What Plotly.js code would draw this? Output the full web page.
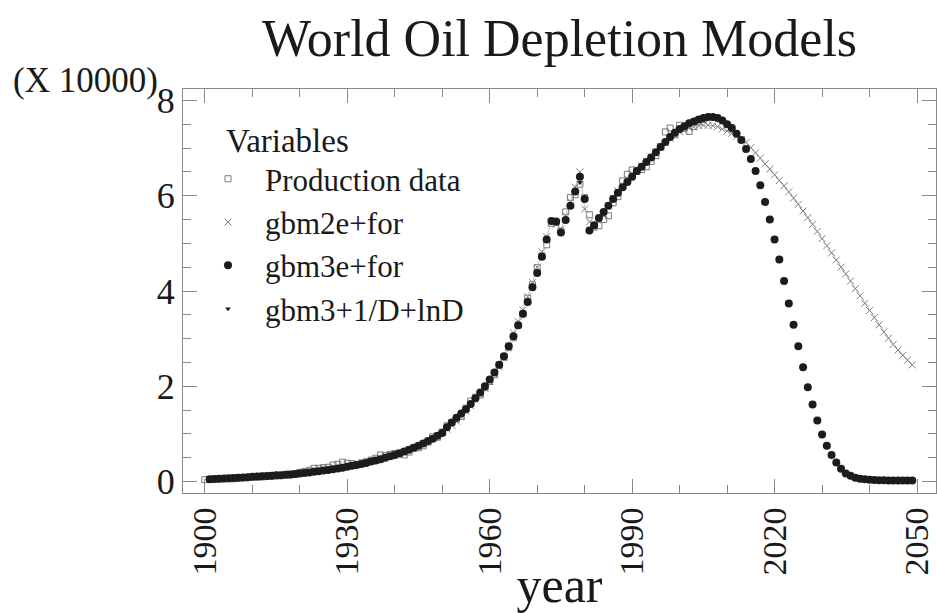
<!DOCTYPE html>
<html><head><meta charset="utf-8">
<script src="https://cdn.plot.ly/plotly-3.0.1.min.js"></script>
<style>html,body{margin:0;padding:0;background:#fff}#chart{width:937px;height:613px}</style>
</head><body><div id="chart"></div>
<script>
// ---- data (units: x 10000) ----
const productionStartYear = 1900;
const productionData = [
  0.040,0.045,0.050,0.054,0.060,0.059,0.058,0.072,0.078,0.082,
  0.090,0.094,0.097,0.105,0.110,0.118,0.125,0.138,0.139,0.152,
  0.189,0.210,0.237,0.278,0.279,0.293,0.301,0.347,0.363,0.407,
  0.386,0.375,0.358,0.393,0.416,0.450,0.490,0.558,0.545,0.572,
  0.589,0.604,0.560,0.620,0.700,0.710,0.750,0.830,0.940,0.930,
  1.04,1.17,1.24,1.31,1.37,1.54,1.69,1.77,1.82,1.97,
  2.10,2.24,2.44,2.61,2.81,3.02,3.28,3.52,3.85,4.13,
  4.49,4.74,4.97,5.42,5.44,5.26,5.66,5.96,6.02,6.24,
  5.96,5.60,5.34,5.37,5.50,5.58,5.85,5.98,6.31,6.45,
  6.54,6.51,6.55,6.61,6.72,6.84,7.03,7.34,7.42,7.28,
  7.48,7.42,7.35,7.45,7.55,7.60
];

const modelStartYear = 1901;
const gbm2eFor = [
  0.050,0.055,0.060,0.066,0.072,0.078,0.084,0.090,0.096,
  0.103,0.110,0.117,0.124,0.132,0.140,0.148,0.157,0.166,0.176,
  0.186,0.197,0.208,0.220,0.232,0.245,0.259,0.273,0.288,0.304,
  0.320,0.338,0.357,0.377,0.398,0.420,0.444,0.470,0.497,0.526,
  0.557,0.590,0.625,0.663,0.704,0.748,0.795,0.846,0.900,0.960,
  1.03,1.10,1.18,1.27,1.37,1.48,1.59,1.71,1.83,1.96,
  2.10,2.25,2.41,2.60,2.85,3.12,3.36,3.60,3.88,4.18,
  4.50,4.82,5.14,5.45,5.40,5.30,5.58,5.88,6.18,6.50,
  5.72,5.45,5.40,5.50,5.62,5.78,5.95,6.10,6.22,6.35,
  6.45,6.55,6.63,6.72,6.82,6.92,7.02,7.12,7.20,7.28,
  7.34,7.38,7.42,7.45,7.47,7.48,7.48,7.47,7.45,7.40,
  7.36,7.31,7.25,7.18,7.12,7.01,6.90,6.79,6.67,6.56,
  6.44,6.32,6.21,6.08,5.95,5.82,5.68,5.54,5.40,5.25,
  5.10,4.95,4.80,4.65,4.50,4.36,4.21,4.05,3.90,3.74,
  3.59,3.44,3.29,3.14,3.01,2.88,2.76,2.65,2.55,2.45
];
const gbm3eFor = [
  0.050,0.055,0.060,0.065,0.070,0.075,0.080,0.085,0.090,
  0.100,0.105,0.110,0.115,0.120,0.130,0.135,0.145,0.150,0.160,
  0.170,0.180,0.190,0.205,0.215,0.230,0.245,0.260,0.275,0.290,
  0.310,0.330,0.350,0.370,0.390,0.420,0.440,0.470,0.500,0.530,
  0.560,0.590,0.630,0.670,0.710,0.750,0.800,0.850,0.900,0.960,
  1.02,1.14,1.24,1.34,1.43,1.52,1.63,1.75,1.87,2.00,
  2.14,2.29,2.45,2.63,2.84,3.05,3.28,3.52,3.77,4.08,
  4.38,4.72,5.08,5.47,5.46,5.23,5.49,5.79,6.09,6.40,
  5.93,5.27,5.38,5.53,5.66,5.79,5.93,6.06,6.18,6.29,
  6.40,6.52,6.61,6.71,6.80,6.91,7.02,7.13,7.23,7.32,
  7.40,7.46,7.52,7.56,7.60,7.63,7.65,7.65,7.63,7.58,
  7.50,7.42,7.30,7.17,6.98,6.77,6.52,6.22,5.87,5.50,
  5.08,4.66,4.21,3.74,3.29,2.84,2.40,1.98,1.62,1.28,
  0.99,0.75,0.56,0.40,0.27,0.17,0.12,0.08,0.06,0.05,
  0.04,0.035,0.03,0.03,0.025,0.025,0.02,0.02,0.02,0.02
];
const gbm3InvDLnD = [
  0.048,0.053,0.058,0.063,0.068,0.073,0.078,0.083,0.088,
  0.097,0.102,0.107,0.112,0.118,0.127,0.132,0.142,0.147,0.157,
  0.167,0.177,0.187,0.201,0.211,0.226,0.241,0.256,0.271,0.286,
  0.305,0.325,0.345,0.365,0.385,0.414,0.434,0.464,0.494,0.524,
  0.553,0.583,0.622,0.662,0.702,0.741,0.791,0.841,0.891,0.950,
  1.01,1.13,1.23,1.33,1.42,1.51,1.62,1.74,1.86,1.99,
  2.13,2.28,2.44,2.62,2.83,3.04,3.27,3.51,3.76,4.06,
  4.36,4.70,5.06,5.44,5.44,5.22,5.47,5.77,6.06,6.28,
  5.92,5.27,5.37,5.52,5.65,5.78,5.92,6.05,6.17,6.28,
  6.39,6.51,6.60,6.70,6.79,6.90,7.01,7.12,7.22,7.31,
  7.39,7.45,7.51,7.55,7.59,7.62,7.64,7.64,7.62,7.57,
  7.49,7.41,7.29,7.16,6.97,6.76,6.51,6.21,5.86,5.49,
  5.07,4.65,4.20,3.73,3.28,2.83,2.39,1.97,1.61,1.27,
  0.98,0.74,0.55,0.39,0.26,0.16,0.11,0.07,0.05,0.04,
  0.035,0.03,0.025,0.025,0.02,0.02,0.02,0.02,0.02,0.02
];

const seriesNames = ['Production data', 'gbm2e+for', 'gbm3e+for', 'gbm3+1/D+lnD'];
const xTickVals = [1900, 1930, 1960, 1990, 2020, 2050];
const xTickText = ['1900', '1930', '1960', '1990', '2020', '2050'];
const yTickVals = [0, 2, 4, 6, 8];
const yTickText = ['0', '2', '4', '6', '8'];

function yearsFrom(start, n) { const a = []; for (let i = 0; i < n; i++) a.push(start + i); return a; }
const prodYears = yearsFrom(productionStartYear, productionData.length);
const modelYears = yearsFrom(modelStartYear, gbm3eFor.length);

const FONT = '"Liberation Serif", "Times New Roman", Times, serif';
const AXC = '#8a8a8a';

const traces = [
  { x: prodYears, y: productionData, name: seriesNames[0], type: 'scatter', mode: 'markers', legendrank: 1,
    marker: { symbol: 'square-open', size: 6, color: '#7a7a7a', line: { width: 1, color: '#7a7a7a' } } },
  { x: modelYears, y: gbm2eFor, name: seriesNames[1], type: 'scatter', mode: 'lines', showlegend: false,
    line: { color: '#c0c0c0', width: 1 }, hoverinfo: 'skip' },
  { x: modelYears, y: gbm2eFor, name: seriesNames[1], type: 'scatter', mode: 'markers', legendrank: 2,
    marker: { symbol: 'x-thin-open', size: 7, color: '#808080', line: { width: 1, color: '#808080' } } },
  { x: modelYears, y: gbm3InvDLnD, name: seriesNames[3], type: 'scatter', mode: 'markers', legendrank: 4,
    marker: { symbol: 'triangle-down', size: 5, color: '#111' } },
  { x: modelYears, y: gbm3eFor, name: seriesNames[2], type: 'scatter', mode: 'markers', legendrank: 3,
    marker: { symbol: 'circle', size: 8, color: '#1c1c1c' } }
];

const layout = {
  width: 937, height: 613,
  margin: { l: 183, r: 1, t: 89, b: 120 },
  paper_bgcolor: '#fff', plot_bgcolor: '#fff',
  font: { family: FONT, color: '#1a1a1a' },
  title: { text: 'World Oil Depletion Models', font: { family: FONT, size: 52, color: '#1a1a1a' },
           x: 0.5, xref: 'paper', xanchor: 'center', y: 0.938, yanchor: 'middle' },
  showlegend: true,
  legend: { x: 0.0106, y: 0.95, xanchor: 'left', yanchor: 'top', bgcolor: 'rgba(0,0,0,0)',
            font: { family: FONT, size: 31, color: '#1a1a1a' },
            title: { text: '\u00a0\u00a0\u00a0\u00a0Variables', font: { family: FONT, size: 33, color: '#1a1a1a' } },
            tracegroupgap: 0, itemwidth: 64 },
  xaxis: {
    range: [1895.4, 2054], showgrid: false, zeroline: false,
    showline: true, linecolor: AXC, linewidth: 1, mirror: 'ticks',
    ticks: 'inside', ticklen: 14, tickcolor: AXC, tickwidth: 1,
    tickmode: 'array', tickvals: xTickVals, ticktext: xTickText, tickangle: -90,
    tickfont: { family: FONT, size: 34, color: '#1a1a1a' },
    minor: { dtick: 10, tick0: 1900, ticks: 'inside', ticklen: 8, tickcolor: AXC, showgrid: false },
    title: { text: 'year', font: { family: FONT, size: 50, color: '#1a1a1a' }, standoff: 0 }
  },
  yaxis: {
    range: [-0.24, 8.24], showgrid: false, zeroline: false,
    showline: true, linecolor: AXC, linewidth: 1, mirror: 'ticks',
    ticks: 'inside', ticklen: 14, tickcolor: AXC, tickwidth: 1,
    tickmode: 'array', tickvals: yTickVals, ticktext: yTickText,
    tickfont: { family: FONT, size: 36, color: '#1a1a1a' },
    minor: { dtick: 0.5, tick0: 0, ticks: 'inside', ticklen: 8, tickcolor: AXC, showgrid: false }
  },
  annotations: [
    { text: '(X 10000)', xref: 'paper', yref: 'paper', x: -0.228, y: 1.022, xanchor: 'left', yanchor: 'middle',
      showarrow: false, font: { family: FONT, size: 35, color: '#1a1a1a' } }
  ]
};

Plotly.newPlot('chart', traces, layout, { displayModeBar: false, staticPlot: true });
</script>
</body></html>
